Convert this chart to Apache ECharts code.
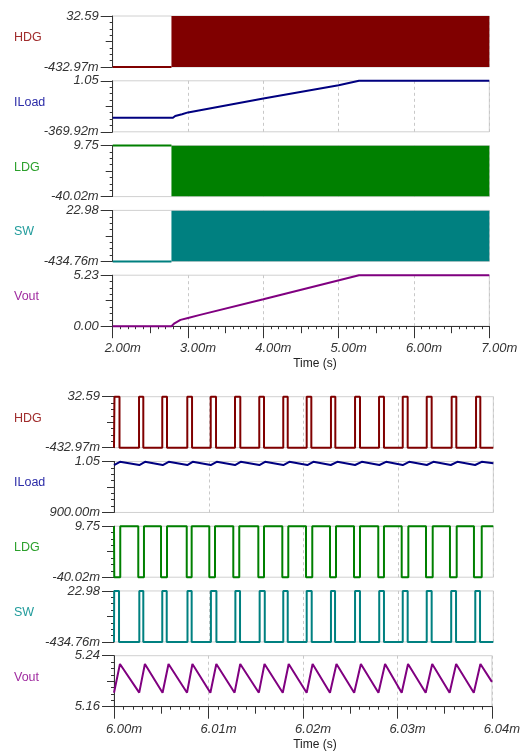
<!DOCTYPE html>
<html><head><meta charset="utf-8">
<script src="https://cdn.jsdelivr.net/npm/echarts@6/dist/echarts.min.js"></script>
<style>html,body{margin:0;padding:0;background:#fff}#c{width:523px;height:752px}</style>
</head><body><div id="c"></div>
<script>
// ---------- data ----------
const names = ['HDG', 'ILoad', 'LDG', 'SW', 'Vout'];
const colors = ['#800000', '#000080', '#008000', '#008080', '#800080'];
const nameColors = ['#a02c2c', '#2c2ca8', '#2ca02c', '#229c9c', '#a02ca0'];

// upper view: 2.00m .. 7.00m (time in ms)
const topXMin = 2, topXMax = 7, topXStep = 1;
const topYMin = [-0.43297, -0.36992, -0.04002, -0.43476, 0];
const topYMax = [32.59, 1.05, 9.75, 22.98, 5.23];
const switchStart = 2.78, switchEnd = 7.0;   // switching (solid band) region
const hdgTopT = [2.0, 2.78];
const hdgTopV = [-0.43297, -0.43297];
const ldgTopT = [2.0, 2.78];
const ldgTopV = [9.75, 9.75];
const swTopT = [2.0, 2.78];
const swTopV = [-0.43476, -0.43476];
const iloadTopT = [2.0, 2.80, 2.83, 2.92, 3.00, 4.00, 5.00, 5.27, 7.00];
const iloadTopV = [0.02, 0.02, 0.07, 0.12, 0.17, 0.555, 0.925, 1.05, 1.05];
const voutTopT = [2.0, 2.78, 2.82, 2.90, 3.00, 3.16, 4.00, 5.27, 7.00];
const voutTopV = [0, 0, 0.30, 0.65, 0.85, 1.16, 2.76, 5.23, 5.23];

// lower view: 6.00m .. 6.04m (edges in µs after 6.00m)
const botXMin = 6.00, botXMax = 6.04, botXStep = 0.01;
const botYMin = [-0.43297, 0.9, -0.04002, -0.43476, 5.16];
const botYMax = [32.59, 1.05, 9.75, 22.98, 5.24];
const hdgRiseUs = [0.05, 2.64, 5.09, 7.73, 10.20, 12.76, 15.32, 17.85, 20.32, 22.88, 25.42, 27.95, 30.45, 32.98, 35.61, 38.18];
const hdgFallUs = [0.58, 3.09, 5.59, 8.23, 10.76, 13.32, 15.82, 18.32, 20.81, 23.34, 25.94, 28.47, 30.97, 33.50, 36.10, 38.63];
const swRiseUs = [0.02, 2.67, 5.09, 7.75, 10.22, 12.80, 15.36, 17.85, 20.32, 22.88, 25.42, 27.97, 30.45, 32.98, 35.56, 38.10];
const swFallUs = [0.53, 3.09, 5.56, 8.19, 10.80, 13.29, 15.90, 18.32, 20.85, 23.31, 25.94, 28.47, 30.97, 33.50, 36.07, 38.60];
const ldgFallUs = [0.03, 2.56, 4.96, 7.67, 10.05, 12.58, 15.22, 17.75, 20.25, 22.78, 25.31, 27.87, 30.34, 32.90, 35.43, 37.96];
const ldgRiseUs = [0.66, 3.16, 5.59, 8.19, 10.65, 13.21, 15.82, 18.38, 20.91, 23.41, 25.94, 28.47, 31.04, 33.61, 36.14, 38.78];
const troughUs = [0, 2.67, 5.14, 7.73, 10.20, 12.76, 15.33, 17.86, 20.39, 22.86, 25.42, 27.99, 30.45, 32.99, 35.52, 38.08];
const peakUs = [0.63, 3.27, 5.77, 8.30, 10.83, 13.36, 15.93, 18.49, 21.02, 23.55, 26.13, 28.69, 31.12, 33.68, 36.21, 38.78];
const voutTroughV = [5.182, 5.182, 5.182, 5.182, 5.182, 5.182, 5.182, 5.182, 5.182, 5.182, 5.182, 5.182, 5.182, 5.182, 5.182, 5.182];
const voutPeakV = [5.227, 5.227, 5.227, 5.227, 5.227, 5.227, 5.227, 5.227, 5.227, 5.227, 5.227, 5.227, 5.227, 5.227, 5.227, 5.227];
const iloadTroughV = [1.0395, 1.0395, 1.0395, 1.0395, 1.0395, 1.0395, 1.0395, 1.0395, 1.0395, 1.0395, 1.0395, 1.0395, 1.0395, 1.0395, 1.0395, 1.0395];
const iloadPeakV = [1.049, 1.049, 1.049, 1.049, 1.049, 1.049, 1.049, 1.049, 1.049, 1.049, 1.049, 1.049, 1.049, 1.049, 1.049, 1.049];
const endUs = 40, voutEndV = 5.199, iloadEndV = 1.045;

// ---------- helpers ----------
const FONT = 'Liberation Sans, Arial, sans-serif';
const us = t => 6 + t / 1000;
const zip = (a, b) => a.map((x, i) => [x, b[i]]);
function pulses(rise, fall, lo, hi) { // high between rise and fall
  const d = [[us(0), lo]];
  rise.forEach((r, i) => { d.push([us(r), lo], [us(r), hi], [us(fall[i]), hi], [us(fall[i]), lo]); });
  d.push([us(endUs), lo]);
  return d;
}
function notches(fall, rise, lo, hi) { // low between fall and rise
  const d = [[us(0), hi]];
  fall.forEach((f, i) => { d.push([us(f), hi], [us(f), lo], [us(rise[i]), lo], [us(rise[i]), hi]); });
  d.push([us(endUs), hi]);
  return d;
}
function saw(tv, pv, endV) {
  const d = [];
  troughUs.forEach((t, i) => { d.push([us(t), tv[i]], [us(peakUs[i]), pv[i]]); });
  d.push([us(endUs), endV]);
  return d;
}
function fmtY(v) {
  if (v !== 0 && Math.abs(v) < 1) return (v * 1000).toFixed(2) + 'm';
  return v.toFixed(2);
}

// ---------- layout ----------
const groups = [
  { left: 112.7, right: 489.3, top0: 16, step: 64.8, h: 51, xmin: topXMin, xmax: topXMax, step_x: topXStep, ymin: topYMin, ymax: topYMax, titleY: 364 },
  { left: 114, right: 493.3, top0: 396.7, step: 64.75, h: 51, xmin: botXMin, xmax: botXMax, step_x: botXStep, ymin: botYMin, ymax: botYMax, titleY: 745 }
];

const grid = [], xAxis = [], yAxis = [], series = [], graphic = [];
const mainX = [], mainY = [];

groups.forEach((G, gi) => {
  for (let p = 0; p < 5; p++) {
    const gIdx = grid.length;
    const top = G.top0 + p * G.step;
    grid.push({ left: G.left, top: top, width: G.right - G.left, height: G.h, show: true,
      borderColor: '#d0d0d0', borderWidth: 1, backgroundColor: 'transparent' });
    const last = p === 4;
    mainX[gIdx] = xAxis.length;
    xAxis.push({ gridIndex: gIdx, type: 'value', position: 'bottom', min: G.xmin, max: G.xmax, interval: G.step_x,
      axisLine: { show: last, onZero: false, lineStyle: { color: '#333', width: 1 } },
      axisTick: { show: last, length: 12, lineStyle: { color: '#333' } },
      minorTick: { show: last, splitNumber: 10, length: 3, lineStyle: { color: '#333' } },
      axisLabel: { show: last, margin: 16, fontSize: 13, fontStyle: 'italic', color: '#333', fontFamily: FONT,
        align: 'center', padding: [0, 0, 0, 20], formatter: v => v.toFixed(2) + 'm' },
      splitLine: { show: true, lineStyle: { color: '#c8c8c8', type: [3, 3], width: 1 } } });
    if (last) {
      xAxis.push({ gridIndex: gIdx, type: 'value', position: 'bottom', min: G.xmin, max: G.xmax, interval: G.step_x / 2,
        axisLine: { show: false, onZero: false }, axisTick: { show: true, length: 7, lineStyle: { color: '#333' } },
        axisLabel: { show: false }, splitLine: { show: false } });
    }
    const mn = G.ymin[p], mx = G.ymax[p];
    mainY[gIdx] = yAxis.length;
    yAxis.push({ gridIndex: gIdx, type: 'value', position: 'left', min: mn, max: mx,
      axisLine: { show: true, onZero: false, lineStyle: { color: '#333', width: 1 } },
      axisTick: { show: true, length: 12, customValues: [mn, mx], lineStyle: { color: '#333' } },
      axisLabel: { show: true, customValues: [mn, mx], formatter: fmtY, margin: 14, fontSize: 13,
        fontStyle: 'italic', color: '#333', fontFamily: FONT },
      splitLine: { show: false } });
    yAxis.push({ gridIndex: gIdx, type: 'value', position: 'left', min: mn, max: mx,
      axisLine: { show: false, onZero: false },
      axisTick: { show: true, length: 7, customValues: [(mn + mx) / 2], lineStyle: { color: '#333' } },
      axisLabel: { show: false }, splitLine: { show: false } });
    const minors = [];
    for (let k = 1; k < 8; k++) if (k !== 4) minors.push(mn + (mx - mn) * k / 8);
    yAxis.push({ gridIndex: gIdx, type: 'value', position: 'left', min: mn, max: mx,
      axisLine: { show: false, onZero: false },
      axisTick: { show: true, length: 3, customValues: minors, lineStyle: { color: '#333' } },
      axisLabel: { show: false }, splitLine: { show: false } });
    graphic.push({ type: 'text', x: 14, y: top + G.h / 2 - 4,
      style: { text: names[p], fill: nameColors[p], fontSize: 12.5, fontFamily: FONT, align: 'left', verticalAlign: 'middle' } });
  }
  graphic.push({ type: 'text', x: 315, y: G.titleY,
    style: { text: 'Time (s)', fill: '#222', fontSize: 12, fontFamily: FONT, align: 'center', verticalAlign: 'middle' } });
});

function line(g, data, color) {
  series.push({ type: 'line', xAxisIndex: mainX[g], yAxisIndex: mainY[g], data: data, showSymbol: false,
    clip: false, animation: false, lineStyle: { color: color, width: 2 }, itemStyle: { color: color } });
}
function band(g, top, color) {
  series.push({ type: 'line', xAxisIndex: mainX[g], yAxisIndex: mainY[g],
    data: [[switchStart, top], [switchEnd, top]], showSymbol: false, animation: false,
    lineStyle: { width: 0 }, areaStyle: { color: color, opacity: 1, origin: 'start' } });
}

// upper view
line(0, zip(hdgTopT, hdgTopV), colors[0]); band(0, topYMax[0], colors[0]);
line(1, zip(iloadTopT, iloadTopV), colors[1]);
line(2, zip(ldgTopT, ldgTopV), colors[2]); band(2, topYMax[2], colors[2]);
line(3, zip(swTopT, swTopV), colors[3]); band(3, topYMax[3], colors[3]);
line(4, zip(voutTopT, voutTopV), colors[4]);
// lower view
line(5, pulses(hdgRiseUs, hdgFallUs, botYMin[0], botYMax[0]), colors[0]);
line(6, saw(iloadTroughV, iloadPeakV, iloadEndV), colors[1]);
line(7, notches(ldgFallUs, ldgRiseUs, botYMin[2], botYMax[2]), colors[2]);
line(8, pulses(swRiseUs, swFallUs, botYMin[3], botYMax[3]), colors[3]);
line(9, saw(voutTroughV, voutPeakV, voutEndV), colors[4]);

const chart = echarts.init(document.getElementById('c'), null, { renderer: 'canvas' });
chart.setOption({ animation: false, backgroundColor: '#fff', grid, xAxis, yAxis, series, graphic });
</script></body></html>
